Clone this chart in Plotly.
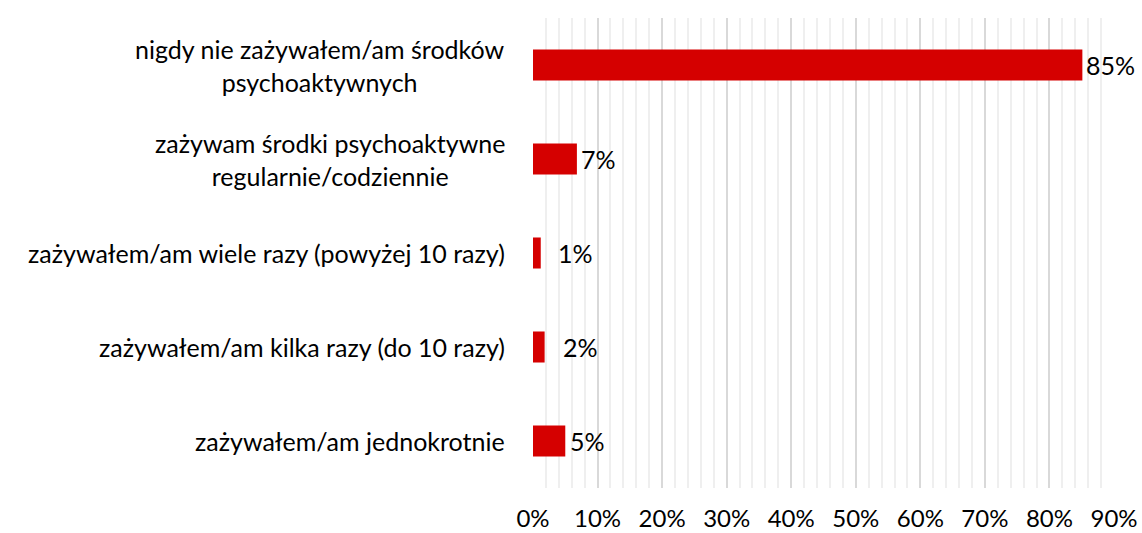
import plotly.graph_objects as go

categories = [
    "nigdy nie zażywałem/am środków<br>psychoaktywnych",
    "zażywam środki psychoaktywne<br>regularnie/codziennie",
    "zażywałem/am wiele razy (powyżej 10 razy)",
    "zażywałem/am kilka razy (do 10 razy)",
    "zażywałem/am jednokrotnie",
]
values = [0.851, 0.068, 0.012, 0.018, 0.050]
value_labels = ["85%", "7%", "1%", "2%", "5%"]
label_shift = [2, 2, 15, 16, 3]

x_ticks = [0, 0.1, 0.2, 0.3, 0.4, 0.5, 0.6, 0.7, 0.8, 0.9]
x_tick_text = ["0%", "10%", "20%", "30%", "40%", "50%", "60%", "70%", "80%", "90%"]

FONT = "Lato"
FS = 25
fig = go.Figure()
fig.add_trace(go.Bar(
    x=values, y=categories, orientation="h",
    marker=dict(color="#d50000", line=dict(width=0)),
    hoverinfo="skip",
))

for c, v, t, s in zip(categories, values, value_labels, label_shift):
    fig.add_annotation(x=v, y=c, xref="x", yref="y", text=t, showarrow=False,
                       xanchor="left", yanchor="middle", xshift=s,
                       font=dict(family=FONT, size=FS, color="#000000"))
    fig.add_annotation(x=0, y=c, xref="paper", yref="y", text=c, showarrow=False,
                       xanchor="right", yanchor="middle", xshift=-26, align="center",
                       font=dict(family=FONT, size=FS, color="#000000"))

fig.update_layout(
    width=1142, height=533,
    margin=dict(l=533, r=28, t=18, b=45, autoexpand=False),
    paper_bgcolor="white", plot_bgcolor="white",
    showlegend=False,
    bargap=0.67,
    font=dict(family=FONT, size=FS, color="#000000"),
    xaxis=dict(
        range=[0, 0.9], tickvals=x_ticks, ticktext=x_tick_text,
        showgrid=True, gridcolor="#d9d9d9", gridwidth=2,
        minor=dict(dtick=0.02, showgrid=True, gridcolor="#efefef", gridwidth=1.5),
        zeroline=False, showline=False, ticks="",
        ticklabelstandoff=14,
        tickfont=dict(family=FONT, size=24, color="#000000"),
        fixedrange=True,
    ),
    yaxis=dict(
        autorange="reversed", showticklabels=False, showgrid=False,
        zeroline=False, showline=False, ticks="", fixedrange=True,
    ),
)

fig.write_html(
    "out.html",
    config={"displayModeBar": False},
    post_script="document.body.style.margin='0';document.body.style.overflow='hidden';",
)
